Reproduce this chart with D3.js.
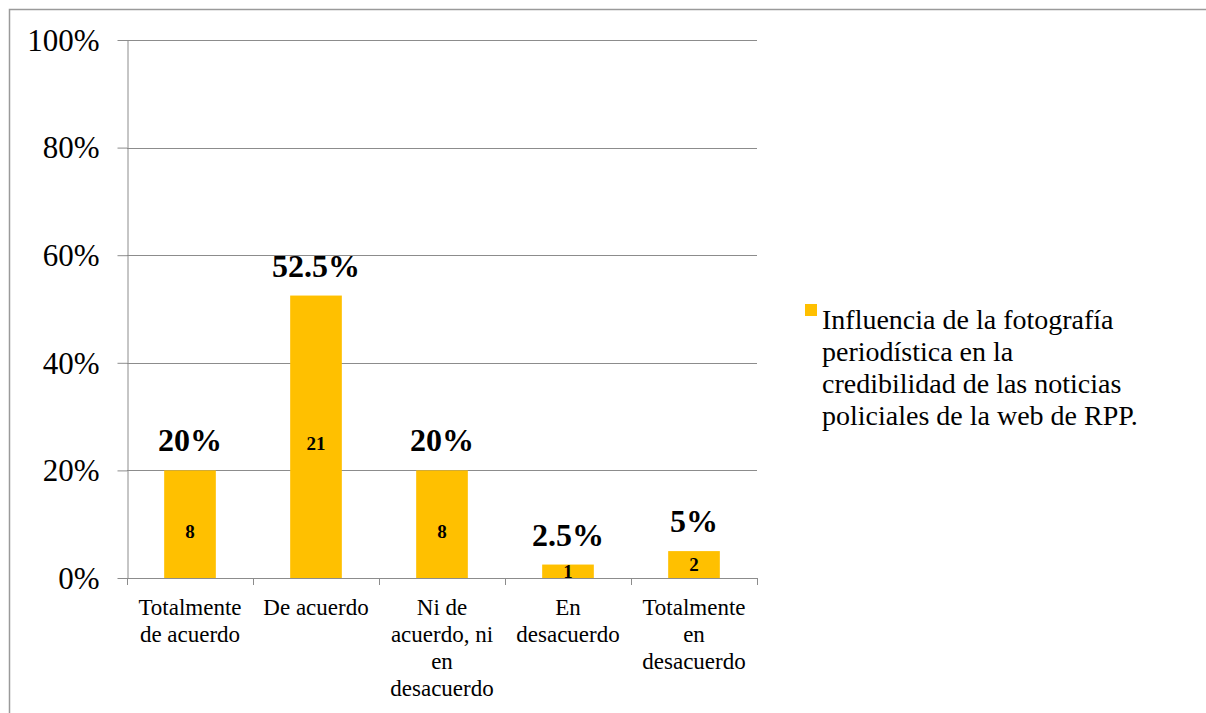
<!DOCTYPE html>
<html>
<head>
<meta charset="utf-8">
<script src="https://cdn.jsdelivr.net/npm/d3@7"></script>
<style>
  html, body { margin: 0; padding: 0; background: #fff; }
  svg { display: block; }
  svg text { font-family: "Liberation Serif", "Times New Roman", serif; }
</style>
</head>
<body>
<svg id="chart" width="1206" height="713"></svg>
<script>
const categories = [
  ["Totalmente", "de acuerdo"],
  ["De acuerdo"],
  ["Ni de", "acuerdo, ni", "en", "desacuerdo"],
  ["En", "desacuerdo"],
  ["Totalmente", "en", "desacuerdo"]
];
const percentValues = [20, 52.5, 20, 2.5, 5];
const percentLabels = ["20%", "52.5%", "20%", "2.5%", "5%"];
const countValues = [8, 21, 8, 1, 2];
const yTicks = [0, 20, 40, 60, 80, 100];
const legendLines = [
  "Influencia de la fotografía",
  "periodística en la",
  "credibilidad de las noticias",
  "policiales de la web de RPP."
];

(function () {
const svg = d3.select("#chart");
const font = "Liberation Serif";

// frame
svg.append("path")
  .attr("d", "M9.5,713 L9.5,9.5 L1206,9.5")
  .attr("fill", "none").attr("stroke", "#9a9a9a").attr("stroke-width", 1.5);

const pLeft = 127, pRight = 757, pTop = 40, pBottom = 578;
const x = d3.scaleBand().domain(d3.range(categories.length)).range([pLeft, pRight]).paddingInner(0.59).paddingOuter(0.295);
const xOuter = d3.scaleBand().domain(d3.range(categories.length)).range([pLeft, pRight]);
const y = d3.scaleLinear().domain([0, 100]).range([pBottom, pTop]);

// gridlines
svg.append("g").selectAll("line").data(yTicks.filter(d => d > 0)).join("line")
  .attr("x1", pLeft).attr("x2", pRight)
  .attr("y1", d => Math.round(y(d)) + 0.5).attr("y2", d => Math.round(y(d)) + 0.5)
  .attr("stroke", "#8c8c8c").attr("stroke-width", 1);

// y axis
const yAxis = svg.append("g").attr("transform", `translate(${pLeft + 0.5},0)`)
  .call(d3.axisLeft(y).tickValues(yTicks).tickFormat(d => d + "%").tickSize(10).tickSizeOuter(0));
yAxis.attr("font-family", null).attr("font-size", null);
yAxis.select(".domain").attr("stroke", "#8c8c8c");
yAxis.selectAll(".tick line").attr("stroke", "#8c8c8c");
yAxis.selectAll(".tick text").style("font-family", font).style("font-size", "31px").attr("fill", "#000")
  .attr("x", -28).attr("dy", "0.33em");

// bars
svg.append("g").selectAll("rect").data(percentValues).join("rect")
  .attr("x", (d, i) => x(i)).attr("width", x.bandwidth())
  .attr("y", d => y(d)).attr("height", d => pBottom - y(d))
  .attr("fill", "#FFC000");

// x axis
const xAxisG = svg.append("g");
xAxisG.append("line").attr("x1", pLeft).attr("x2", pRight)
  .attr("y1", pBottom + 0.5).attr("y2", pBottom + 0.5).attr("stroke", "#8c8c8c");
xAxisG.selectAll("line.tk").data(d3.range(categories.length + 1)).join("line").attr("class", "tk")
  .attr("x1", i => Math.round(pLeft + i * xOuter.step()) + 0.5)
  .attr("x2", i => Math.round(pLeft + i * xOuter.step()) + 0.5)
  .attr("y1", pBottom).attr("y2", pBottom + 7).attr("stroke", "#8c8c8c");

// category labels
const catG = svg.append("g");
categories.forEach((lines, i) => {
  const t = catG.append("text").style("font-family", font).style("font-size", "23px").attr("fill", "#000")
    .attr("text-anchor", "middle");
  lines.forEach((ln, j) => {
    t.append("tspan").attr("x", xOuter(i) + xOuter.bandwidth() / 2).attr("y", 615 + j * 27).text(ln);
  });
});

// percent labels above bars
svg.append("g").selectAll("text").data(percentValues).join("text")
  .attr("x", (d, i) => x(i) + x.bandwidth() / 2)
  .attr("y", d => y(d) - 19)
  .attr("text-anchor", "middle").style("font-family", font).style("font-weight", "bold")
  .style("font-size", "32px").attr("fill", "#000")
  .text((d, i) => percentLabels[i]);

// count labels inside bars
svg.append("g").selectAll("text").data(countValues).join("text")
  .attr("x", (d, i) => x(i) + x.bandwidth() / 2)
  .attr("y", (d, i) => {
    const h = pBottom - y(percentValues[i]);
    return (y(percentValues[i]) + pBottom) / 2 + (h > 50 ? 7 : 0) + 6.5;
  })
  .attr("text-anchor", "middle").style("font-family", font).style("font-weight", "bold")
  .style("font-size", "19px").attr("fill", "#000")
  .text(d => d);

// legend
const lg = svg.append("g");
lg.append("rect").attr("x", 805).attr("y", 304).attr("width", 12).attr("height", 12).attr("fill", "#FFC000");
const lt = lg.append("text").style("font-family", font).style("font-size", "28px").attr("fill", "#000");
legendLines.forEach((ln, j) => {
  lt.append("tspan").attr("x", 822).attr("y", 329 + j * 32).text(ln);
});
})();
</script>
</body>
</html>
